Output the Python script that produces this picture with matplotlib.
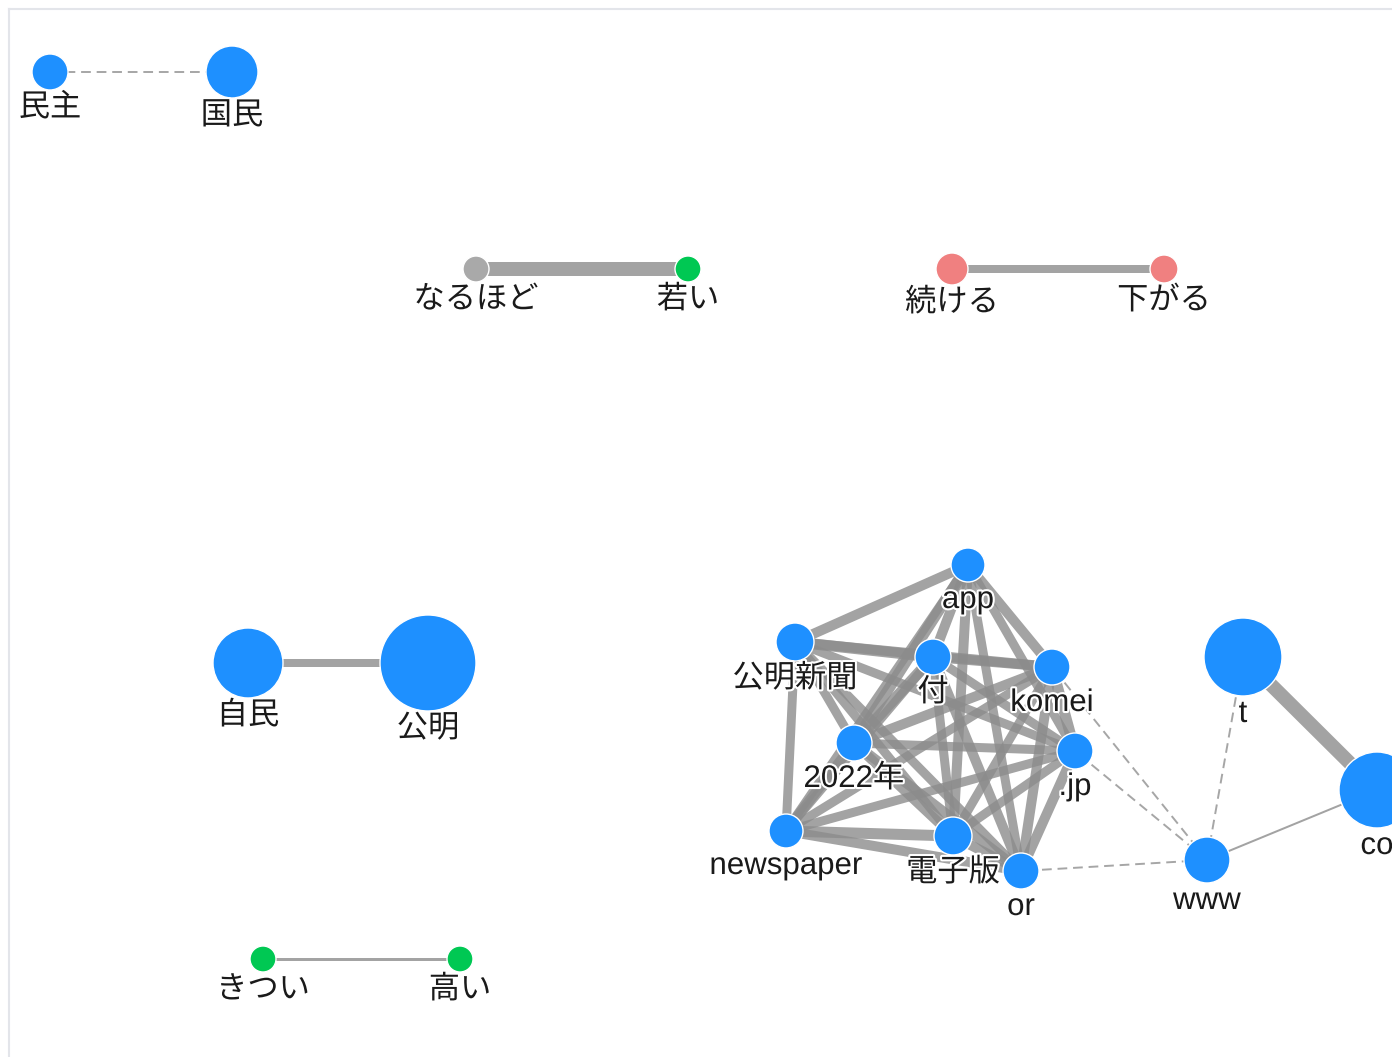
import matplotlib
matplotlib.use("Agg")
import matplotlib.pyplot as plt
from matplotlib.patches import Circle
import matplotlib.patheffects as pe

plt.rcParams['font.family'] = ['Liberation Sans', 'Noto Sans CJK JP', 'DejaVu Sans']

# ---- data ----
node_names = ["民主", "国民", "なるほど", "若い", "続ける", "下がる", "自民", "公明",
              "きつい", "高い", "app", "公明新聞", "付", "komei", "2022年", ".jp",
              "newspaper", "電子版", "or", "www", "t", "co"]
node_x = [50, 232, 476, 688, 952, 1164, 248, 428,
          263, 460, 968, 795, 933, 1052, 854, 1075,
          786, 953, 1021, 1207, 1243, 1377]
node_y = [72, 72, 269, 269, 269, 269, 663, 663,
          959, 959, 565, 642, 657, 667, 743, 751,
          831, 836, 871, 860, 657, 790]
node_size = [18, 26, 13, 13, 16, 14, 35, 48,
             13, 13, 17, 19, 18, 18, 18, 18,
             17, 19, 18, 23, 39, 38]
node_group = ["blue", "blue", "gray", "green", "pink", "pink", "blue", "blue",
              "green", "green", "blue", "blue", "blue", "blue", "blue", "blue",
              "blue", "blue", "blue", "blue", "blue", "blue"]

# solid edges (source, target, weight)
edge_src = ["なるほど", "続ける", "自民", "きつい", "t", "www",
            "app", "app", "app", "app", "app", "app", "app", "app",
            "公明新聞", "公明新聞", "公明新聞", "公明新聞", "公明新聞", "公明新聞", "公明新聞",
            "付", "付", "付", "付", "付", "付",
            "komei", "komei", "komei", "komei", "komei",
            "2022年", "2022年", "2022年", "2022年",
            ".jp", ".jp", ".jp",
            "newspaper", "newspaper",
            "電子版"]
edge_dst = ["若い", "下がる", "公明", "高い", "co", "co",
            "公明新聞", "付", "komei", "2022年", ".jp", "newspaper", "電子版", "or",
            "付", "komei", "2022年", ".jp", "newspaper", "電子版", "or",
            "komei", "2022年", ".jp", "newspaper", "電子版", "or",
            "2022年", ".jp", "newspaper", "電子版", "or",
            ".jp", "newspaper", "電子版", "or",
            "newspaper", "電子版", "or",
            "電子版", "or",
            "or"]
edge_w = [14, 8, 8, 3, 14, 2,
          10, 10, 10, 11, 9, 9, 10, 9,
          11, 10, 9, 9, 9, 9, 9,
          10, 11, 9, 9, 9, 10,
          10, 11, 9, 9, 10,
          9, 10, 10, 10,
          9, 9, 10,
          11, 10,
          10]

# dashed (weak) edges
dash_src = ["民主", "www", "www", "www", "www"]
dash_dst = ["国民", "t", "komei", ".jp", "or"]

colors = {"blue": "#1e90ff", "gray": "#a9a9a9", "green": "#00c853", "pink": "#f08080"}

W, H = 1392, 1057
fig = plt.figure(figsize=(W / 100, H / 100), dpi=100)
ax = fig.add_axes([0, 0, 1, 1])
ax.set_xlim(0, W)
ax.set_ylim(H, 0)
ax.set_aspect('equal')
ax.axis('off')

# frame lines
ax.plot([9, W], [9, 9], color="#e3e5ea", lw=1.5, zorder=0)
ax.plot([9, 9], [9, H], color="#e3e5ea", lw=1.5, zorder=0)

idx = {n: i for i, n in enumerate(node_names)}
px_to_pt = 72 / 100

for s, d, w in zip(edge_src, edge_dst, edge_w):
    i, j = idx[s], idx[d]
    ax.plot([node_x[i], node_x[j]], [node_y[i], node_y[j]], color="#8c8c8c",
            alpha=0.8, lw=w * px_to_pt, solid_capstyle='butt', zorder=1)

for s, d in zip(dash_src, dash_dst):
    i, j = idx[s], idx[d]
    ax.plot([node_x[i], node_x[j]], [node_y[i], node_y[j]], color="#a6a6a6",
            lw=1.4, ls=(0, (5, 3)), zorder=1)

for n, x, y, r, g in zip(node_names, node_x, node_y, node_size, node_group):
    ax.add_patch(Circle((x, y), r, facecolor=colors[g], edgecolor="white",
                        lw=1.0, zorder=3))
    ax.text(x, y + r + 3, n, ha='center', va='top', fontsize=22.5, color="#1a1a1a",
            zorder=4, path_effects=[pe.withStroke(linewidth=3, foreground="white")])

fig.savefig("out.png", dpi=100)
